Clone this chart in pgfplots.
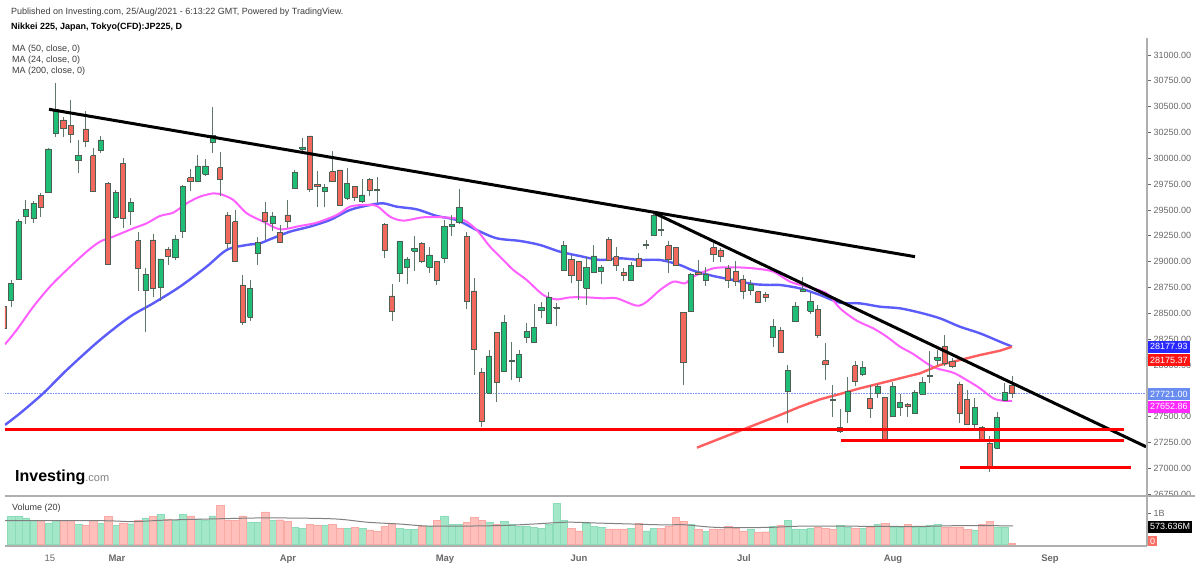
\documentclass[border=0pt]{standalone}
\usepackage{pgfplots}
\pgfplotsset{compat=1.18}
\usepackage{pgfplotstable}
\usepackage{fontspec}
\setmainfont{Liberation Sans}

\definecolor{cgreen}{RGB}{30,190,118}
\definecolor{cred}{RGB}{242,104,92}
\definecolor{cedge}{RGB}{75,95,85}
\definecolor{cwick}{RGB}{95,120,105}
\definecolor{vgreen}{RGB}{163,231,201}
\definecolor{vgreenD}{RGB}{140,220,185}
\definecolor{vred}{RGB}{255,192,188}
\definecolor{vredD}{RGB}{250,170,165}
\definecolor{mablue}{RGB}{92,92,250}
\definecolor{mamag}{RGB}{255,95,255}
\definecolor{mared}{RGB}{255,95,95}
\definecolor{tickgrey}{RGB}{105,105,105}
\definecolor{axgrey}{RGB}{175,175,175}
\definecolor{titlegrey}{RGB}{60,60,60}
\definecolor{dotblue}{RGB}{120,150,240}

\pgfplotstableread{
x o h l c v
11.1 28629 28822 28564 28790 0.89
18.5 28832 29410 28822 29393 0.89
26.0 29442 29597 29364 29506 0.85
33.5 29419 29590 29371 29564 0.78
48.4 29668 30097 29661 30090 0.68
55.9 30242 30726 30210 30474 0.78
78.3 29977 30177 29861 30026 0.63
100.7 30081 30216 30055 30177 0.68
115.7 29426 29693 29410 29671 0.60
130.6 29487 29613 29355 29571 0.66
145.5 28726 28935 28316 28877 0.85
160.5 28752 29026 28622 29026 0.96
175.4 29039 29258 29016 29219 0.78
182.9 29290 29742 29226 29726 0.96
197.8 29774 30032 29774 29926 0.82
205.3 29845 29993 29832 29926 0.76
212.8 30155 30494 30055 30219 0.92
250.1 28461 28822 28429 28742 0.71
257.6 29081 29242 28968 29184 0.71
272.5 29371 29484 29300 29442 0.76
294.9 29710 29887 29710 29861 0.54
302.4 30087 30200 30064 30103 0.52
324.8 29677 29752 29526 29719 0.60
347.2 29613 29903 29597 29758 0.52
362.2 29581 29797 29571 29645 0.50
399.5 28887 29194 28806 29194 0.52
407.0 28945 29042 28784 29026 0.47
414.4 29103 29248 28913 29129 0.47
429.4 28945 29145 28887 29065 0.58
444.3 29032 29403 28984 29339 0.92
451.8 29339 29452 29248 29364 0.65
459.3 29377 29700 29364 29526 0.63
489.2 27726 28145 27726 28087 0.71
504.1 27935 28484 27935 28413 0.73
511.6 28032 28219 27854 28048 0.65
519.0 27880 28145 27838 28106 0.57
526.5 28267 28409 28209 28322 0.59
534.0 28216 28587 28209 28364 0.54
541.4 28526 28613 28451 28558 0.52
548.9 28403 28709 28403 28654 0.63
556.4 28548 28597 28377 28558 1.33
563.9 28919 29200 28919 29155 0.76
586.3 28742 29048 28580 28945 0.68
593.7 28897 29161 28887 29055 0.58
601.2 28903 28968 28780 28942 0.54
631.1 28816 29000 28816 28961 0.52
646.0 29155 29210 29122 29168 0.43
653.5 29258 29474 29251 29451 0.52
690.8 28516 28887 28516 28880 0.65
705.8 28816 28945 28764 28880 0.41
750.6 28719 28822 28677 28780 0.47
773.0 28267 28441 28171 28377 0.57
787.9 27741 27999 27435 27951 0.78
795.4 28419 28612 28419 28571 0.49
802.9 28716 28855 28709 28732 0.47
810.4 28522 28700 28493 28612 0.51
840.2 27354 27570 27345 27393 0.60
847.7 27548 27887 27441 27748 0.54
862.7 27912 28038 27893 27977 0.52
877.6 27725 27816 27677 27790 0.65
892.5 27499 27838 27499 27790 0.56
900.0 27590 27719 27506 27641 0.56
914.9 27532 27758 27532 27735 0.56
922.4 27719 27887 27719 27829 0.56
929.9 27887 28138 27822 27896 0.60
937.4 28048 28145 28000 28074 0.65
974.7 27428 27677 27370 27590 0.46
997.1 27193 27548 27193 27493 0.56
1004.6 27654 27822 27654 27732 0.56
}\upt

\pgfplotstableread{
x o h l c v
3.6 28564 28600 28330 28355 nan
40.9 29639 29661 29435 29526 0.76
63.4 30371 30403 30210 30290 0.76
70.8 30316 30564 30151 30235 0.76
85.8 30284 30461 30106 30161 0.60
93.2 30026 30097 29677 29677 0.76
108.2 29758 29768 28968 28974 0.89
123.1 29952 30000 29323 29419 0.68
138.1 29203 29290 28719 28935 0.76
153.0 29210 29268 28655 28742 0.89
168.0 29122 29145 28968 29048 0.82
190.4 29813 29893 29684 29774 0.92
220.2 29910 30064 29635 29797 1.25
227.7 29452 29484 29119 29177 0.76
235.2 29387 29500 28999 28999 0.76
242.6 28774 28871 28387 28413 0.92
265.1 29477 29581 29210 29387 1.05
280.0 29281 29355 29177 29184 0.79
287.5 29452 29597 29323 29393 0.74
309.9 30216 30216 29677 29700 0.63
317.3 29748 29877 29532 29732 0.60
332.3 29871 30074 29774 29774 0.63
339.8 29887 29887 29542 29542 0.50
354.7 29726 29732 29590 29623 0.54
369.6 29797 29806 29635 29687 0.46
377.1 29700 29816 29571 29693 0.41
384.6 29361 29371 29032 29106 0.57
392.0 28668 28784 28429 28522 0.68
421.9 29177 29194 28990 29000 0.58
436.9 29000 29000 28774 28816 0.76
466.7 29242 29290 28539 28613 0.71
474.2 28716 28839 27903 28152 0.87
481.7 27929 27968 27403 27451 0.78
496.6 28316 28316 27645 27829 0.65
571.3 29022 29064 28790 28864 0.52
578.8 29006 29006 28629 28816 0.43
608.7 29216 29242 29016 29016 0.49
616.1 29048 29145 28913 28968 0.49
623.6 28897 28935 28813 28864 0.49
638.5 29032 29087 28945 28951 0.68
661.0 29313 29451 29251 29300 0.50
668.4 29155 29203 28887 29022 0.57
675.9 29135 29145 28968 28968 0.87
683.4 28509 28509 27806 28022 0.73
698.3 28896 29016 28870 28877 0.49
713.3 29135 29177 29000 29074 0.49
720.7 29113 29129 29000 29055 0.47
728.2 28935 28968 28748 28822 0.57
735.7 28909 29006 28764 28806 0.52
743.1 28832 28871 28635 28716 0.43
758.1 28709 28716 28603 28603 0.38
765.5 28684 28709 28613 28654 0.40
780.5 28338 28371 28119 28119 0.60
817.8 28541 28580 28258 28290 0.54
825.3 28042 28209 27854 28009 0.51
832.8 27670 27806 27499 27654 0.47
855.2 27993 28038 27796 27838 0.51
870.1 27677 27806 27483 27580 0.54
885.1 27687 27687 27283 27283 0.68
907.5 27619 27635 27499 27596 0.65
944.8 28183 28290 27990 28016 0.56
952.3 28038 28064 27974 27983 0.56
959.8 27812 27838 27441 27532 0.56
967.2 27667 27758 27428 27428 0.47
982.2 27396 27409 27267 27280 0.63
989.6 27241 27312 26967 27009 0.73
1012.0 27803 27893 27677 27721 0.02
}\dnt

\pgfplotsset{
  wick/.style={draw=cwick, line width=1pt, mark=none},
  gbody/.style={draw=cedge, fill=cgreen, line width=0.7pt, mark=none, line join=miter},
  rbody/.style={draw=cedge, fill=cred, line width=0.7pt, mark=none, line join=miter},
}

\newcommand\drawcandles[2]{%
  \pgfplotstablegetrowsof{#1}%
  \pgfmathtruncatemacro\nrows{\pgfplotsretval-1}%
  \pgfplotsforeachungrouped \i in {0,...,\nrows}{%
    \pgfplotstablegetelem{\i}{x}\of#1\let\cx\pgfplotsretval
    \pgfplotstablegetelem{\i}{o}\of#1\let\co\pgfplotsretval
    \pgfplotstablegetelem{\i}{h}\of#1\let\ch\pgfplotsretval
    \pgfplotstablegetelem{\i}{l}\of#1\let\cl\pgfplotsretval
    \pgfplotstablegetelem{\i}{c}\of#1\let\cc\pgfplotsretval
    \pgfmathsetmacro\xa{\cx-2.6}%
    \pgfmathsetmacro\xb{\cx+2.6}%
    \edef\temp{\noexpand\addplot[wick] coordinates {(\cx,\cl) (\cx,\ch)};%
      \noexpand\addplot[#2] coordinates {(\xa,\co) (\xb,\co) (\xb,\cc) (\xa,\cc) (\xa,\co)};}%
    \temp
  }%
}

\begin{document}
\begin{tikzpicture}[x=1pt,y=1pt]
\path[use as bounding box, fill=white] (0,0) rectangle (1200,565);

% ---------------- price pane ----------------
\begin{axis}[
  at={(5pt,69pt)}, anchor=south west, scale only axis,
  width=1142pt, height=458pt,
  xmin=5, xmax=1147, ymin=26732, ymax=31164,
  hide x axis, axis y line*=right,
  y axis line style={draw=none},
  scaled y ticks=false,
  ytick={26750,27000,27250,27500,28000,28250,28500,28750,29000,29250,29500,29750,30000,30250,30500,30750,31000},
  extra y ticks={27750}, extra y tick labels={},
  tick align=outside, major tick length=4pt,
  tick style={draw=tickgrey, line width=0.6pt},
  yticklabel style={font=\fontsize{9}{10}\selectfont, text=tickgrey, xshift=-1pt},
  /pgf/number format/.cd, fixed, fixed zerofill, precision=2, 1000 sep={}, assume math mode=true,
]
% current price dotted line
\addplot[dotblue, line width=0.6pt, densely dotted] coordinates {(5,27721) (1147,27721)};
% moving averages
\addplot[mablue, line width=2.4pt, smooth] coordinates {
(5,27420) (20,27532) (43.3,27726) (66.7,27951) (100,28242) (130,28467) (153.3,28597) (180,28758) (206.7,28952) (226.7,29113) (246.7,29161) (260,29177) (270,29216) (290,29290) (310,29339) (330,29403) (350,29500) (370,29548) (383.3,29564) (396.7,29532) (416.7,29506) (436.7,29442) (456.7,29403) (476.7,29306) (496.7,29226) (520,29200) (540,29161) (560,29096) (580,29054) (600,29016) (620,29032) (640,29016) (660,29016) (680,28967) (693.3,28913) (713.3,28861) (733.3,28822) (753.3,28783) (770,28774) (780,28774) (800,28741) (820,28677) (840,28603) (860,28596) (880,28564) (900,28548) (920,28506) (940,28451) (960,28370) (980,28306) (1000,28225) (1012,28178)};
\addplot[mamag, line width=2pt, smooth] coordinates {
(5,28200) (16.7,28339) (33.3,28564) (50,28758) (66.7,28919) (86.7,29097) (100,29193) (113.3,29242) (133.3,29322) (146.7,29371) (160,29442) (173.3,29474) (186.7,29564) (200,29629) (213.3,29661) (220,29655) (233.3,29597) (246.7,29468) (263.3,29387) (280,29313) (300,29345) (316.7,29377) (336.7,29451) (350,29532) (363.3,29548) (376.7,29539) (390,29435) (403.3,29397) (423.3,29429) (443.3,29429) (463.3,29403) (476.7,29306) (490,29145) (503.3,29016) (513.3,28919) (526.7,28822) (543.3,28677) (556.7,28635) (570,28654) (586.7,28654) (603.3,28645) (616.7,28645) (636.7,28574) (646.7,28612) (660,28725) (673.3,28806) (685,28790) (693.3,28854) (713.3,28935) (733.3,28945) (753.3,28935) (773.3,28903) (790,28806) (806.7,28757) (826.7,28693) (840,28548) (856.7,28429) (873.3,28354) (886.7,28274) (900,28177) (913.3,28106) (926.7,28016) (936.7,27967) (953.3,27925) (966.7,27854) (980,27774) (993.3,27677) (1003.3,27654) (1012,27653)};
\addplot[mared, line width=2.4pt] coordinates {
(697,27200) (780,27516) (800,27596) (820,27667) (840,27719) (860,27774) (880,27822) (900,27871) (920,27919) (940,28000) (960,28048) (980,28096) (1000,28138) (1012,28176)};
% candles
\drawcandles{\upt}{gbody}
\drawcandles{\dnt}{rbody}
% drawn lines
\addplot[black, line width=3pt] coordinates {(49,30474) (915,29048)};
\addplot[black, line width=3pt] coordinates {(655,29467) (1146,27209)};
\addplot[red, line width=3pt] coordinates {(5,27377) (1124,27377)};
\addplot[red, line width=3pt] coordinates {(841,27267) (1124,27267)};
\addplot[red, line width=3pt] coordinates {(960,27003) (1131,27003)};
\end{axis}

% ---------------- volume pane ----------------
\begin{axis}[
  at={(5pt,19pt)}, anchor=south west, scale only axis,
  width=1142pt, height=50pt,
  xmin=5, xmax=1147, ymin=-0.065, ymax=1.5635,
  axis x line*=bottom, axis y line*=right,
  axis line style={-},
  x axis line style={draw=axgrey, line width=1.2pt},
  y axis line style={draw=none},
  xtick={50,117,288,445,579,744,893,1050},
  xticklabels={15,\textbf{Mar},\textbf{Apr},\textbf{May},\textbf{Jun},\textbf{Jul},\textbf{Aug},\textbf{Sep}},
  xticklabel style={font=\fontsize{9.5}{10}\selectfont, text=tickgrey, yshift=-1pt},
  extra x ticks={183,356,513,647,812,960,1118},
  extra x tick labels={},
  extra x tick style={major tick length=3pt, tick style={draw=axgrey, line width=0.8pt}},
  ytick={1}, yticklabels={1B},
  yticklabel style={font=\fontsize{9}{10}\selectfont, text=tickgrey, xshift=-1pt},
  tick align=outside, major tick length=4pt,
  ytick style={draw=tickgrey, line width=0.6pt},
  xtick style={draw=none},
]
\addplot[ybar, bar width=7.3pt, bar shift=0pt, fill=vgreen, draw=vgreenD, line width=0.4pt] table[x=x,y=v] {\upt};
\addplot[ybar, bar width=7.3pt, bar shift=0pt, fill=vred, draw=vredD, line width=0.4pt] table[x=x,y=v] {\dnt};
\addplot[gray, line width=1pt, smooth] coordinates {
(5,0.76) (100,0.76) (133,0.73) (167,0.78) (217,0.82) (267,0.85) (333,0.82) (367,0.71) (400,0.65) (433,0.58) (500,0.60) (533,0.65) (567,0.71) (600,0.68) (633,0.65) (667,0.62) (683,0.63) (717,0.54) (767,0.54) (800,0.58) (847,0.58) (913,0.57) (963,0.60) (1013,0.59)};
\end{axis}

% frame lines
\draw[axgrey, line width=1.2pt] (5,69) -- (1195,69);
\draw[axgrey, line width=1.5pt] (1147,527) -- (1147,19);

% right-hand value boxes
\tikzset{vbox/.style={anchor=west, inner xsep=2pt, inner ysep=0pt, minimum height=12pt, text=white, font=\fontsize{9}{10}\selectfont}}
\node[vbox, fill={rgb,255:red,40;green,40;blue,255}] at (1148,218.3) {28177.93};
\node[vbox, fill={rgb,255:red,255;green,20;blue,20}] at (1148,205) {28175.37};
\node[vbox, fill={rgb,255:red,105;green,140;blue,240}] at (1148,171) {27721.00};
\node[vbox, fill={rgb,255:red,255;green,40;blue,255}] at (1148,158.3) {27652.86};
\node[vbox, fill=black] at (1148,38.3) {573.636M};
\node[vbox, fill={rgb,255:red,250;green,110;blue,100}, minimum height=10pt] at (1148,23.5) {0};

% titles
\node[anchor=west, inner sep=0pt, font=\fontsize{9}{10}\selectfont, text=titlegrey] at (11,553) {Published on Investing.com, 25/Aug/2021 - 6:13:22 GMT, Powered by TradingView.};
\node[anchor=west, inner sep=0pt, font=\fontsize{9}{10}\selectfont\bfseries, text=black] at (11,538) {Nikkei 225, Japan, Tokyo(CFD):JP225, D};
\node[anchor=west, inner sep=0pt, font=\fontsize{9}{10}\selectfont, text=titlegrey] at (12,516) {MA (50, close, 0)};
\node[anchor=west, inner sep=0pt, font=\fontsize{9}{10}\selectfont, text=titlegrey] at (12,505) {MA (24, close, 0)};
\node[anchor=west, inner sep=0pt, font=\fontsize{9}{10}\selectfont, text=titlegrey] at (12,494) {MA (200, close, 0)};
\node[anchor=west, inner sep=0pt, font=\fontsize{9}{10}\selectfont, text=titlegrey] at (12,57.3) {Volume (20)};
% logo
\node[anchor=base west, inner sep=0pt] at (15,83) {{\fontsize{16}{16}\selectfont\bfseries Investing}{\fontsize{11}{11}\selectfont\color{gray}.com}};
\end{tikzpicture}
\end{document}
